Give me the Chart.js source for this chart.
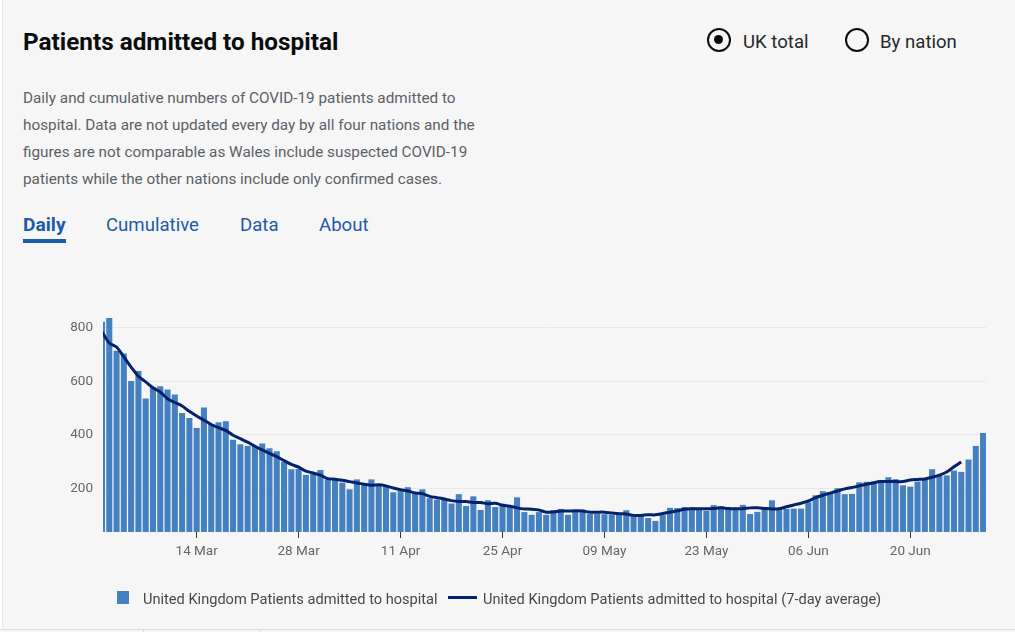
<!DOCTYPE html>
<html>
<head>
<meta charset="utf-8">
<title>Patients admitted to hospital</title>
<script src="https://cdn.jsdelivr.net/npm/chart.js@4"></script>
<style>
  html, body { margin: 0; padding: 0; background: #fff; }
  body { width: 1015px; height: 632px; overflow: hidden; position: relative; font-family: Roboto, sans-serif; }
  #card { position: absolute; left: 2px; top: 0; width: 1013px; height: 629px; background: #f6f6f6; border-left: 1px solid #e6e6e6; box-sizing: border-box; }
  #foot { position: absolute; left: 0; top: 629px; width: 1015px; height: 3px; background: #f6f6f6; border-top: 1px solid #dcdcdc; box-sizing: border-box; }
  #foot i { position: absolute; top: 0; width: 1px; height: 3px; background: #dcdcdc; }
  h1 { position: absolute; left: 23px; top: 27px; margin: 0; font-size: 24.3px; line-height: 30px; font-weight: 700; color: #0b0c0c; white-space: nowrap; }
  #desc { position: absolute; left: 23px; top: 85px; margin: 0; font-size: 15.3px; line-height: 27px; color: #5c6166; white-space: nowrap; }
  .tab { position: absolute; top: 213px; font-size: 18.6px; line-height: 24px; color: #1d5aa8; white-space: nowrap; }
  .tab.on { font-weight: 700; font-size: 19.2px; }
  #underline { position: absolute; left: 23px; top: 239px; width: 43px; height: 4px; background: #1d5aa8; }
  .radio { position: absolute; top: 28px; width: 24px; height: 24px; border: 2.5px solid #0b0c0c; border-radius: 50%; box-sizing: border-box; }
  .radio.on::after { content: ""; position: absolute; left: 5px; top: 5px; width: 9px; height: 9px; border-radius: 50%; background: #0b0c0c; }
  .rlabel { position: absolute; top: 30px; font-size: 18.6px; line-height: 24px; color: #25282b; white-space: nowrap; }
  #chart { position: absolute; left: 0; top: 0; }
  .lg { position: absolute; top: 589px; font-size: 14.6px; line-height: 20px; color: #46494c; white-space: nowrap; }
  #lgBar { position: absolute; left: 117px; top: 591px; width: 12px; height: 13px; background: #4580c0; }
  #lgLine { position: absolute; left: 448px; top: 596px; width: 29px; height: 3px; background: #04216b; }
</style>
</head>
<body>
<div id="card"></div>
<div id="foot"><i style="left:143px"></i><i style="left:259px"></i></div>

<h1>Patients admitted to hospital</h1>
<div class="radio on" style="left:707px"></div>
<div class="rlabel" style="left:743px">UK total</div>
<div class="radio" style="left:845px"></div>
<div class="rlabel" style="left:880px">By nation</div>
<p id="desc">Daily and cumulative numbers of COVID-19 patients admitted to<br>hospital. Data are not updated every day by all four nations and the<br>figures are not comparable as Wales include suspected COVID-19<br>patients while the other nations include only confirmed cases.</p>
<div class="tab on" style="left:23px">Daily</div>
<div class="tab" style="left:106px">Cumulative</div>
<div class="tab" style="left:240px">Data</div>
<div class="tab" style="left:319px">About</div>
<div id="underline"></div>

<canvas id="chart" width="1015" height="632"></canvas>

<div id="lgBar"></div>
<div class="lg" id="lgBarText" style="left:143px"></div>
<div id="lgLine"></div>
<div class="lg" id="lgLineText" style="left:483px"></div>

<script>
const barLabel = "United Kingdom Patients admitted to hospital";
const lineLabel = "United Kingdom Patients admitted to hospital (7-day average)";

// one value per day, 1 Mar to 30 Jun
const admitted = [
  821, 835, 713, 703, 600, 637, 535, 576, 580, 568, 550, 481, 462, 425, 501, 440, 446, 450, 381, 364,
  358, 358, 367, 349, 338, 298, 271, 272, 250, 256, 268, 233, 233, 221, 196, 233, 214, 233, 214, 206,
  185, 196, 204, 181, 196, 163, 157, 159, 143, 178, 134, 170, 119, 155, 130, 142, 132, 166, 111, 101,
  111, 101, 118, 123, 101, 116, 120, 104, 104, 103, 101, 102, 118, 96, 97, 89, 78, 102, 127, 126,
  130, 128, 125, 116, 137, 133, 123, 123, 138, 104, 112, 123, 155, 124, 123, 124, 124, 148, 174, 189,
  184, 200, 178, 179, 222, 224, 225, 231, 241, 234, 211, 206, 225, 232, 271, 247, 248, 266, 261, 307,
  358, 406
];

// the average stops on 27 Jun
const average = [
  785, 743, 728, 691, 653, 619, 598, 576, 560, 535, 521, 508, 488, 471, 455, 439, 427, 417, 399, 386,
  373, 358, 344, 331, 319, 304, 290, 280, 265, 258, 250, 237, 235, 231, 226, 221, 216, 212, 214, 210,
  202, 196, 191, 184, 181, 171, 166, 161, 155, 152, 152, 148, 148, 143, 145, 138, 134, 128, 124, 123,
  120, 112, 113, 116, 116, 117, 116, 112, 112, 112, 109, 106, 105, 100, 100, 102, 102, 107, 112, 117,
  123, 125, 125, 125, 126, 128, 126, 125, 125, 128, 128, 126, 124, 125, 132, 139, 145, 154, 166, 175,
  183, 191, 199, 204, 210, 216, 222, 226, 226, 226, 226, 232, 234, 236, 242, 250, 262, 281, 299
];

const tickDays = [13, 27, 41, 55, 69, 83, 97, 111];
const tickLabels = ["14 Mar", "28 Mar", "11 Apr", "25 Apr", "09 May", "23 May", "06 Jun", "20 Jun"];
const yTicks = [200, 400, 600, 800];

document.getElementById("lgBarText").textContent = barLabel;
document.getElementById("lgLineText").textContent = lineLabel;

Chart.defaults.font.family = "Roboto, sans-serif";

new Chart(document.getElementById("chart"), {
  data: {
    datasets: [
      {
        type: "line",
        label: lineLabel,
        data: average.map((v, i) => ({ x: i, y: v })),
        borderColor: "#04216b",
        borderWidth: 3,
        pointRadius: 0,
        tension: 0.3,
        order: 1,
      },
      {
        type: "bar",
        label: barLabel,
        data: admitted.map((v, i) => ({ x: i, y: v })),
        backgroundColor: "#4580c0",
        barThickness: 5.4,
        order: 2,
      },
    ],
  },
  options: {
    responsive: false,
    animation: false,
    layout: { padding: { left: 0, top: 317, right: 29, bottom: 0 } },
    plugins: { legend: { display: false }, tooltip: { enabled: false } },
    scales: {
      x: {
        type: "linear",
        offset: false, // bars would add half a band each side otherwise
        min: 0.137,
        max: 121.4,
        afterBuildTicks: (scale) => {
          scale.ticks = tickDays.map((value) => ({ value }));
        },
        afterFit: (scale) => {
          scale.height = 100;
        },
        grid: {
          offset: false,
          drawOnChartArea: false,
          drawTicks: true,
          tickLength: 6,
          tickColor: "#333",
          tickWidth: 1,
        },
        border: { display: false },
        ticks: {
          autoSkip: false,
          maxRotation: 0,
          padding: 6,
          color: "#666",
          font: { size: 13.5 },
          callback: (value) => tickLabels[tickDays.indexOf(value)],
        },
      },
      y: {
        min: 38,
        max: 840,
        afterBuildTicks: (scale) => {
          scale.ticks = yTicks.map((value) => ({ value }));
        },
        afterFit: (scale) => {
          scale.width = 103;
        },
        grid: { color: "#e8e8e8", drawTicks: false },
        border: { display: false },
        ticks: { padding: 10, color: "#666", font: { size: 13.5 } },
      },
    },
  },
});
</script>
</body>
</html>
